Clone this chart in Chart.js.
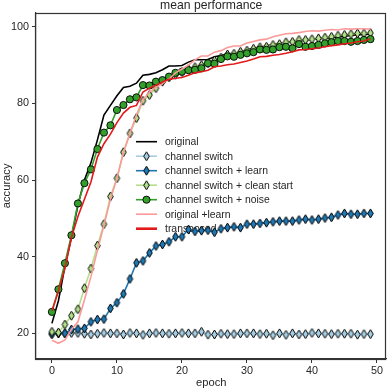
<!DOCTYPE html>
<html><head><meta charset="utf-8">
<script src="https://cdn.jsdelivr.net/npm/chart.js@4/dist/chart.umd.min.js"></script>
<style>html,body{margin:0;padding:0;background:#fff;}#wrap{width:392px;height:390px;}</style>
</head><body><div id="wrap"><canvas id="c" width="392" height="390"></canvas></div>
<script>
const epochs = [0,1,2,3,4,5,6,7,8,9,10,11,12,13,14,15,16,17,18,19,20,21,22,23,24,25,26,27,28,29,30,31,32,33,34,35,36,37,38,39,40,41,42,43,44,45,46,47,48,49];
const xTicks = [0,10,20,30,40,50];
const yTicks = [20,40,60,80,100];
const seriesLabels = ["original","channel switch","channel switch + learn","channel switch + clean start","channel switch + noise","original +learn","transposed"];

const original = [22.6,28.5,37.5,45.0,53.5,60.0,64.5,70.5,77.0,79.5,82.0,84.2,84.5,85.3,87.4,87.6,88.0,88.8,89.8,89.8,89.9,90.8,91.4,91.4,91.5,92.2,92.5,92.9,93.1,93.3,94.0,94.4,94.7,95.0,95.4,95.6,95.9,96.1,96.3,96.5,96.7,96.9,97.0,97.2,97.4,97.5,97.8,97.9,98.0,98.1];
const channelSwitch = [19.7,20.0,20.0,20.1,20.1,19.9,19.7,19.9,20.1,20.0,20.0,19.7,20.1,20.0,19.6,20.0,20.1,20.0,19.9,20.0,20.1,20.0,20.0,20.4,19.65,19.7,19.9,19.8,19.8,20.0,20.0,20.0,19.8,19.9,19.5,20.0,19.6,20.0,19.7,19.8,20.1,20.0,19.9,19.8,19.9,19.9,19.9,19.65,19.8,19.8];
const channelSwitchLearn = [20.0,20.0,20.0,21.0,21.1,21.3,23.0,23.6,23.7,26.5,28.0,30.3,34.2,38.4,38.9,41.0,42.8,43.2,43.9,45.2,45.2,47.1,46.6,46.8,46.9,46.4,47.3,47.6,47.8,47.6,48.5,48.5,48.7,48.9,49.1,49.3,49.3,49.3,49.6,49.8,49.6,49.8,50.1,50.3,50.9,51.3,51.1,51.1,51.3,51.3];
const channelSwitchClean = [20.4,20.2,22.3,24.6,26.3,31.8,36.9,42.9,48.5,55.7,60.5,67.3,72.2,76.2,80.7,82.2,84.0,85.7,86.8,87.5,88.2,89.0,89.5,90.0,90.5,91.2,92.0,92.8,93.0,93.5,93.8,94.3,94.7,94.8,95.3,95.5,96.0,96.1,96.6,96.6,96.8,97.0,97.2,97.4,97.7,97.9,98.1,98.3,98.3,98.4];
const channelSwitchNoise = [25.6,31.5,38.3,45.6,53.9,59.2,62.8,68.1,72.4,74.3,78.3,79.6,81.1,81.6,84.8,84.7,85.7,86.1,87.0,88.0,88.3,88.7,88.8,89.2,90.5,90.4,91.6,92.3,92.2,92.7,93.1,93.4,94.1,94.0,94.1,94.7,94.8,94.4,95.5,94.8,95.0,95.3,95.7,96.0,96.3,96.3,96.1,96.3,96.6,96.8];
const originalLearn = [18.2,17.4,18.3,21.0,23.0,28.7,34.8,41.7,48.2,55.0,60.5,67.2,72.2,77.0,81.0,83.0,84.2,85.2,86.4,88.0,89.0,90.0,91.4,92.4,92.4,93.4,93.8,94.6,95.0,95.0,95.8,96.2,96.6,96.8,97.4,97.8,98.2,98.3,98.5,98.8,99.0,98.9,99.1,99.3,99.2,99.5,99.4,99.5,99.5,99.4];
const transposed = [25.9,31.0,37.0,45.0,50.5,55.0,59.5,66.0,69.5,72.0,75.0,77.5,79.0,79.5,83.0,84.0,84.8,85.6,86.3,86.6,86.8,87.4,88.0,88.3,88.7,89.6,89.8,90.1,90.3,90.7,91.1,91.6,92.2,92.3,92.6,92.8,93.1,93.5,94.0,94.1,94.3,94.5,94.8,95.1,95.3,95.6,95.8,96.1,96.3,96.9];

const FONT = "'Liberation Sans', Arial, sans-serif";

function diamond(fill){
  const cv = document.createElement('canvas');
  cv.width = 9; cv.height = 11;
  const g = cv.getContext('2d');
  g.beginPath();
  g.moveTo(4.5,1.0); g.lineTo(7.3,5.5); g.lineTo(4.5,10.0); g.lineTo(1.7,5.5); g.closePath();
  g.fillStyle = fill; g.fill();
  g.lineWidth = 1.0; g.strokeStyle = '#000'; g.stroke();
  return cv;
}
const pts = v => epochs.map((e,i)=>({x:e,y:v[i]}));

const styles = [
  {color:'#000000', marker:null, lw:1.6, order:7},
  {color:'#a6cee3', marker:'diamond', lw:1.6, order:6},
  {color:'#1f78b4', marker:'diamond', lw:1.6, order:5},
  {color:'#b2df8a', marker:'diamond', lw:1.6, order:4},
  {color:'#33a02c', marker:'circle', lw:1.6, order:3},
  {color:'#fb9a99', marker:null, lw:1.6, order:2},
  {color:'#e31a1c', marker:null, lw:1.6, order:1}
];
const values = [original, channelSwitch, channelSwitchLearn, channelSwitchClean, channelSwitchNoise, originalLearn, transposed];

const datasets = values.map((v,i)=>{
  const s = styles[i];
  const d = {label: seriesLabels[i], data: pts(v), borderColor: s.color, backgroundColor: s.color,
    borderWidth: s.lw, order: s.order, tension: 0, fill:false};
  if (s.marker === 'diamond') { const img = diamond(s.color); d.pointStyle = img; d.pointRadius = 4; d._img = img; }
  else if (s.marker === 'circle') { d.pointStyle='circle'; d.pointRadius=3.6; d.pointBorderColor='#000'; d.pointBorderWidth=0.9; d.pointBackgroundColor=s.color; }
  else { d.pointRadius = 0; }
  return d;
});

const deco = {
  id:'deco',
  beforeDatasetsDraw(chart){
    const ctx = chart.ctx;
    ctx.save();
    ctx.font = '10.4px ' + FONT;
    ctx.textBaseline = 'middle';
    const x0 = 136, x1 = 157, tx = 165, y0 = 141.7, dy = 14.5;
    chart.data.datasets.forEach((d,i)=>{
      const y = y0 + dy*i;
      const s = styles[i];
      ctx.beginPath(); ctx.moveTo(x0,y); ctx.lineTo(x1,y);
      ctx.strokeStyle = d.borderColor; ctx.lineWidth = (i===6?2.6:s.lw); ctx.stroke();
      if (s.marker==='diamond') { ctx.drawImage(d._img, (x0+x1)/2-4.5, y-5.5); }
      else if (s.marker==='circle') { ctx.beginPath(); ctx.arc((x0+x1)/2, y, 3.6, 0, Math.PI*2); ctx.fillStyle=s.color; ctx.fill(); ctx.lineWidth=0.9; ctx.strokeStyle='#000'; ctx.stroke(); }
      ctx.fillStyle = '#262626';
      ctx.fillText(d.label, tx, y+0.5);
    });
    ctx.restore();
  },
  afterDraw(chart){
    const ctx = chart.ctx, a = chart.chartArea;
    ctx.save();
    ctx.strokeStyle = '#333'; ctx.lineWidth = 1.2;
    ctx.strokeRect(Math.round(a.left)+0.5-1, Math.round(a.top)+0.5, Math.round(a.right-a.left), Math.round(a.bottom-a.top));
    ctx.fillStyle = '#262626';
    ctx.textAlign = 'center';
    ctx.font = '12.2px ' + FONT; ctx.textBaseline = 'alphabetic';
    ctx.fillText('mean performance', (a.left+a.right)/2, 8.5);
    ctx.font = '11.2px ' + FONT; ctx.textBaseline = 'middle';
    ctx.fillText('epoch', (a.left+a.right)/2, 383.3);
    ctx.translate(7, (a.top+a.bottom)/2);
    ctx.rotate(-Math.PI/2);
    ctx.fillText('accuracy', 0, 0);
    ctx.restore();
  }
};

new Chart(document.getElementById('c'), {
  type:'line',
  data:{datasets},
  options:{
    responsive:false, animation:false, devicePixelRatio:1,
    layout:{padding:{top:12.7, right:1, left:0, bottom:0}},
    plugins:{legend:{display:false}, title:{display:false}, tooltip:{enabled:false}},
    scales:{
      x:{type:'linear', min:-2.45, max:51.45,
        afterBuildTicks(s){ s.ticks = xTicks.map(v=>({value:v})); },
        afterFit(s){ s.height = 31; },
        ticks:{font:{family:FONT, size:10.8}, color:'#262626', padding:2, maxRotation:0},
        grid:{drawOnChartArea:false, drawTicks:true, tickLength:4, color:'#333'},
        border:{display:true, color:'#333', width:1.2}
      },
      y:{type:'linear', min:13.3, max:103.7,
        afterBuildTicks(s){ s.ticks = yTicks.map(v=>({value:v})); },
        afterFit(s){ s.width = 36; },
        ticks:{font:{family:FONT, size:10.8}, color:'#262626', padding:3},
        grid:{drawOnChartArea:false, drawTicks:true, tickLength:4, color:'#333'},
        border:{display:true, color:'#333', width:1.2}
      }
    }
  },
  plugins:[deco]
});
</script></body></html>
